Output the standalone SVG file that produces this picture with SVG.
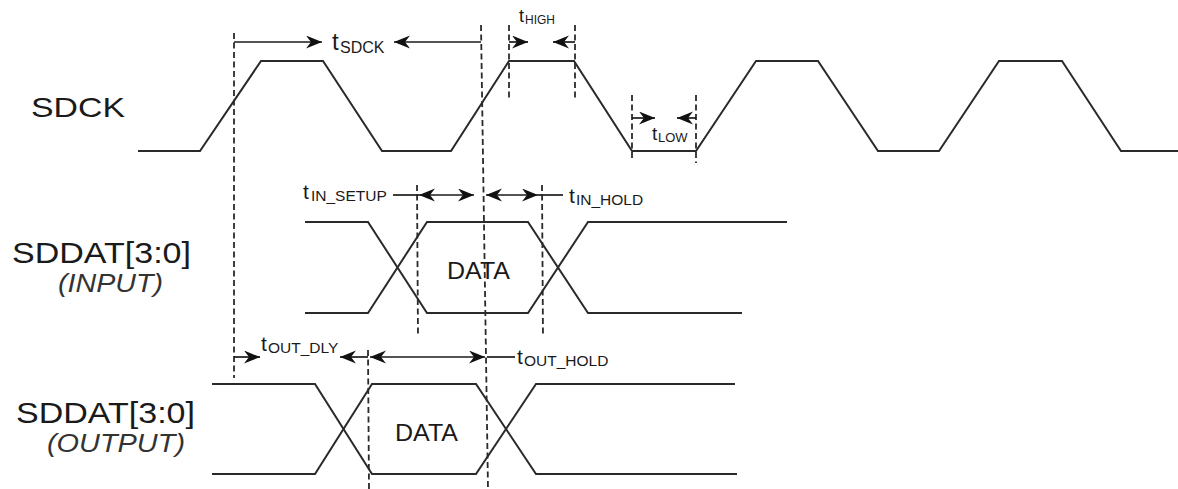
<svg xmlns="http://www.w3.org/2000/svg" width="1178" height="489" viewBox="0 0 1178 489">
  <style>
    .wave { fill: none; stroke: #2a2a2a; stroke-width: 2; stroke-linejoin: miter; }
    .dash { fill: none; stroke: #2a2a2a; stroke-width: 1.8; stroke-dasharray: 6 3.5; }
    .arr { fill: none; stroke: #1a1a1a; stroke-width: 1.7; marker-end: url(#ah); }
    .dbl { fill: none; stroke: #1a1a1a; stroke-width: 1.7; marker-start: url(#ah); marker-end: url(#ah); }
    .pl { fill: none; stroke: #1a1a1a; stroke-width: 1.7; }
    .lbl { font-family: "Liberation Sans", Arial, sans-serif; fill: #1a1a1a; }
    .it { font-style: italic; fill: #333; }
  </style>
  <defs>
    <marker id="ah" markerUnits="userSpaceOnUse" markerWidth="17" markerHeight="14" refX="16" refY="6.5" orient="auto-start-reverse">
      <path d="M0,0 L16,6.5 L0,13 L5,6.5 Z" fill="#111"/>
    </marker>
  </defs>
  <rect width="1178" height="489" fill="#fff"/>

  <g id="labels">
    <text class="lbl" x="31" y="117" font-size="28" textLength="94" lengthAdjust="spacingAndGlyphs">SDCK</text>
    <text class="lbl" x="12" y="263" font-size="30" textLength="179" lengthAdjust="spacingAndGlyphs">SDDAT[3:0]</text>
    <text class="lbl it" x="58" y="292" font-size="25" textLength="105" lengthAdjust="spacingAndGlyphs">(INPUT)</text>
    <text class="lbl" x="16" y="423" font-size="30" textLength="179" lengthAdjust="spacingAndGlyphs">SDDAT[3:0]</text>
    <text class="lbl it" x="47" y="452" font-size="25" textLength="138" lengthAdjust="spacingAndGlyphs">(OUTPUT)</text>
  </g>

  <g id="sdck">
    <path class="wave" d="M138,151 L200,151 L261,61 L323,61 L382,151 L451,151 L509,61 L574,61 L632,151 L696,151 L756,61 L818,61 L878,151 L939,151 L999,61 L1062,61 L1121,151 L1178,151"/>
  </g>

  <g id="sddat-input">
    <path class="wave" d="M305,222 L368,222 L427,313 L528,313 L588,222 L787,222"/>
    <path class="wave" d="M305,313 L368,313 L427,222 L528,222 L588,313 L742,313"/>
    <text class="lbl" x="447" y="279" font-size="23" textLength="63" lengthAdjust="spacingAndGlyphs">DATA</text>
  </g>

  <g id="sddat-output">
    <path class="wave" d="M212,384 L315,384 L372,474 L476,474 L536,384 L735,384"/>
    <path class="wave" d="M212,474 L315,474 L372,384 L476,384 L536,474 L737,474"/>
    <text class="lbl" x="395" y="441" font-size="23" textLength="63" lengthAdjust="spacingAndGlyphs">DATA</text>
  </g>

  <g id="guides">
    <line class="dash" x1="234" y1="33" x2="234" y2="378"/>
    <line class="dash" x1="481" y1="25" x2="488" y2="489"/>
    <line class="dash" x1="509" y1="25" x2="509" y2="100"/>
    <line class="dash" x1="575" y1="25" x2="575" y2="100"/>
    <line class="dash" x1="632" y1="95" x2="632" y2="160"/>
    <line class="dash" x1="696" y1="95" x2="696" y2="163"/>
    <line class="dash" x1="417" y1="185" x2="418" y2="337"/>
    <line class="dash" x1="542" y1="185" x2="543" y2="337"/>
    <line class="dash" x1="368" y1="350" x2="369" y2="489"/>
  </g>

  <g id="connectors">
    <line class="arr" x1="234" y1="42" x2="322" y2="42"/>
    <line class="arr" x1="481" y1="42" x2="394" y2="42"/>
    <line class="arr" x1="509" y1="42" x2="528" y2="42"/>
    <line class="arr" x1="575" y1="42" x2="553" y2="42"/>
    <line class="arr" x1="632" y1="118" x2="655" y2="118"/>
    <line class="arr" x1="696" y1="118" x2="677" y2="118"/>
    <line class="pl" x1="393" y1="195" x2="419" y2="195"/>
    <line class="dbl" x1="419" y1="195" x2="474" y2="195"/>
    <line class="dbl" x1="486" y1="195" x2="538" y2="195"/>
    <line class="pl" x1="538" y1="195" x2="563" y2="195"/>
    <line class="arr" x1="234" y1="357" x2="260" y2="357"/>
    <line class="arr" x1="368" y1="357" x2="340" y2="357"/>
    <line class="dbl" x1="370" y1="357" x2="485" y2="357"/>
    <line class="pl" x1="487" y1="357" x2="515" y2="357"/>
  </g>

  <g id="timing-labels" class="lbl">
    <text x="332" y="50" font-size="24">t<tspan x="340" y="53" font-size="16">SDCK</tspan></text>
    <text x="519" y="22" font-size="18">t<tspan x="525" y="24" font-size="12">HIGH</tspan></text>
    <text x="652" y="140" font-size="19">t<tspan x="658" y="142" font-size="13">LOW</tspan></text>
    <text x="303" y="199" font-size="21">t<tspan x="311" y="201" font-size="15.5">IN_SETUP</tspan></text>
    <text x="569" y="203" font-size="21">t<tspan x="576" y="205" font-size="15.5">IN_HOLD</tspan></text>
    <text x="261" y="351" font-size="21">t<tspan x="268" y="353" font-size="15.5">OUT_DLY</tspan></text>
    <text x="517" y="364" font-size="21">t<tspan x="524" y="366" font-size="15.5">OUT_HOLD</tspan></text>
  </g>
</svg>
